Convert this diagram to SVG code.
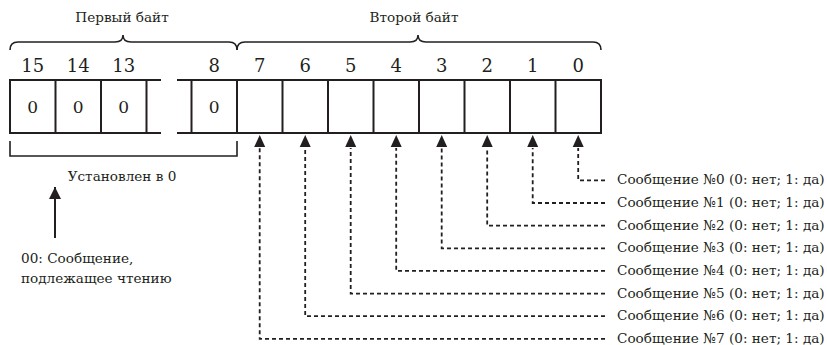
<svg xmlns="http://www.w3.org/2000/svg" width="827" height="345" viewBox="0 0 827 345">
<defs>
<style>
.t{font-family:"DejaVu Serif","Liberation Serif",serif;fill:#231f20}
.lbl{font-size:13.6px}
.num{font-size:18px;text-anchor:middle}
.val{font-size:17px;text-anchor:middle}
.ln{stroke:#231f20;stroke-width:2;fill:none}
.br{stroke:#231f20;stroke-width:1.6;fill:none}
.dash{stroke:#231f20;stroke-width:1.8;fill:none;stroke-dasharray:4 3}
</style>
<marker id="ah" viewBox="0 0 12 12" refX="12" refY="6" markerWidth="12" markerHeight="12" markerUnits="userSpaceOnUse" orient="auto">
<path d="M0,0 L12,6 L0,12 Z" fill="#231f20"/>
</marker>
</defs>
<rect width="827" height="345" fill="#ffffff"/>

<g id="brace-byte1">
<path class="br" d="M10,50 Q10,42 18,42 L115,42 Q123,42 123,35 Q123,42 131,42 L229,42 Q237,42 237,50"/>
<text class="t lbl" x="122" y="22" text-anchor="middle">Первый байт</text>
</g>
<g id="brace-byte2">
<path class="br" d="M237,50 Q237,42 245,42 L410,42 Q418,42 418,35 Q418,42 426,42 L593,42 Q601,42 601,50"/>
<text class="t lbl" x="414" y="22" text-anchor="middle">Второй байт</text>
</g>

<g id="register">
<path class="ln" d="M10,80 H161 M177,80 H601 M10,133 H161 M177,133 H601"/>
<path class="ln" d="M10,79 V134 M55.5,80 V133 M101,80 V133 M146.5,80 V133 M191.5,80 V133 M237,80 V133 M282.5,80 V133 M328,80 V133 M373.5,80 V133 M419,80 V133 M464.5,80 V133 M510,80 V133 M555.5,80 V133 M601,79 V134"/>
<g class="t num">
<text x="32.7" y="72">15</text>
<text x="78.2" y="72">14</text>
<text x="123.7" y="72">13</text>
<text x="214.2" y="72">8</text>
<text x="259.7" y="72">7</text>
<text x="305.2" y="72">6</text>
<text x="350.7" y="72">5</text>
<text x="396.2" y="72">4</text>
<text x="441.7" y="72">3</text>
<text x="487.2" y="72">2</text>
<text x="532.7" y="72">1</text>
<text x="578.2" y="72">0</text>
</g>
<g class="t val">
<text x="32.7" y="113">0</text>
<text x="78.2" y="113">0</text>
<text x="123.7" y="113">0</text>
<text x="214.2" y="113">0</text>
</g>
</g>

<g id="zero-bracket">
<path class="br" d="M10,141 V156 H237 V141"/>
<text class="t lbl" x="122" y="181" text-anchor="middle">Установлен в 0</text>
</g>

<g id="note-00">
<text class="t lbl" x="21" y="263">00: Сообщение,</text>
<text class="t lbl" x="21" y="283">подлежащее чтению</text>
</g>

<g id="messages" class="t lbl">
<text x="617" y="184.3">Сообщение №0 (0: нет; 1: да)</text>
<text x="617" y="207">Сообщение №1 (0: нет; 1: да)</text>
<text x="617" y="229.6">Сообщение №2 (0: нет; 1: да)</text>
<text x="617" y="252.3">Сообщение №3 (0: нет; 1: да)</text>
<text x="617" y="274.9">Сообщение №4 (0: нет; 1: да)</text>
<text x="617" y="297.6">Сообщение №5 (0: нет; 1: да)</text>
<text x="617" y="320.2">Сообщение №6 (0: нет; 1: да)</text>
<text x="617" y="342.9">Сообщение №7 (0: нет; 1: да)</text>
</g>

<g id="connectors">
<path class="ln" d="M55,238 V187" marker-end="url(#ah)"/>
<path class="dash" d="M605,180.3 H578.2 V148"/>
<path class="dash" d="M605,203 H532.7 V148"/>
<path class="dash" d="M605,225.6 H487.2 V148"/>
<path class="dash" d="M605,248.3 H441.7 V148"/>
<path class="dash" d="M605,270.9 H396.2 V148"/>
<path class="dash" d="M605,293.6 H350.7 V148"/>
<path class="dash" d="M605,316.2 H305.2 V148"/>
<path class="dash" d="M605,338.9 H259.7 V148"/>
<g fill="#231f20">
<path d="M578.2,135 L583.7,147 L572.7,147 Z"/>
<path d="M532.7,135 L538.2,147 L527.2,147 Z"/>
<path d="M487.2,135 L492.7,147 L481.7,147 Z"/>
<path d="M441.7,135 L447.2,147 L436.2,147 Z"/>
<path d="M396.2,135 L401.7,147 L390.7,147 Z"/>
<path d="M350.7,135 L356.2,147 L345.2,147 Z"/>
<path d="M305.2,135 L310.7,147 L299.7,147 Z"/>
<path d="M259.7,135 L265.2,147 L254.2,147 Z"/>
</g>
</g>
</svg>
